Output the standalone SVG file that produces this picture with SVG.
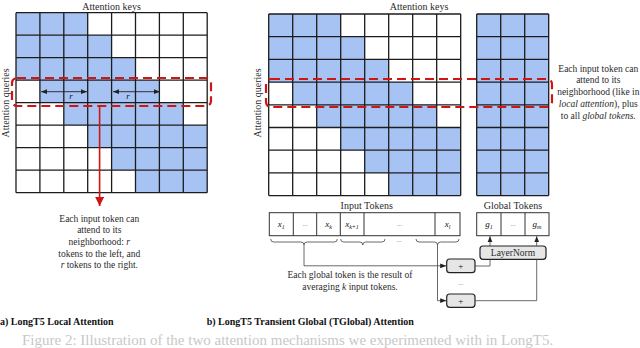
<svg xmlns="http://www.w3.org/2000/svg" width="640" height="348" viewBox="0 0 640 348">
<defs>
<style>
text{font-family:"Liberation Serif","Times New Roman","DejaVu Serif",serif;fill:#2a2a2a}
.lbl{font-size:10px;text-anchor:middle}
.ann{font-size:9.5px;text-anchor:middle}
.cap{font-size:10px;font-weight:bold;fill:#111}
.blue{fill:#a6c3f3;stroke:none}
.grid{fill:none;stroke:#1c1c1c;stroke-width:1.3}
.red{fill:none;stroke:#d01515;stroke-width:2.2;stroke-dasharray:9 5}
.tok{fill:#fff;stroke:#333;stroke-width:1}
.tk{font-size:9px;font-style:italic;text-anchor:middle;fill:#111}
.dots{font-size:7px;text-anchor:middle;fill:#888}
.box{fill:#e6e6e6;stroke:#222;stroke-width:1.2}
.plus{font-size:9px;text-anchor:middle;fill:#111}
.con{fill:none;stroke:#444;stroke-width:0.8}
.it{font-style:italic}
.fig{font-size:15px;fill:#c8c8c8}
</style>
<marker id="ah" viewBox="0 0 10 10" refX="10" refY="5" markerWidth="6" markerHeight="6" markerUnits="userSpaceOnUse" orient="auto-start-reverse"><path d="M0,1 L10,5 L0,9 z" fill="#222"/></marker>
<marker id="ahr" viewBox="0 0 10 10" refX="10" refY="5" markerWidth="9" markerHeight="9" markerUnits="userSpaceOnUse" orient="auto"><path d="M0,0 L10,5 L0,10 z" fill="#d01515"/></marker>
</defs>
<rect width="640" height="348" fill="#fff"/>

<g id="local-grid">
<text class="lbl" x="111.6" y="9.5">Attention keys</text>
<text class="lbl" transform="translate(8.5,103) rotate(-90)">Attention queries</text>
<rect class="blue" x="16" y="12.7" width="71.7" height="22.5"/>
<rect class="blue" x="16" y="35.2" width="95.6" height="22.5"/>
<rect class="blue" x="16" y="57.7" width="119.5" height="22.5"/>
<rect class="blue" x="39.9" y="80.2" width="119.5" height="22.5"/>
<rect class="blue" x="63.8" y="102.7" width="119.5" height="22.5"/>
<rect class="blue" x="87.7" y="125.2" width="119.5" height="22.5"/>
<rect class="blue" x="111.6" y="147.7" width="95.6" height="22.5"/>
<rect class="blue" x="135.5" y="170.2" width="71.7" height="22.5"/>
<path class="grid" d="M16,12.7V192.7M39.9,12.7V192.7M63.8,12.7V192.7M87.7,12.7V192.7M111.6,12.7V192.7M135.5,12.7V192.7M159.4,12.7V192.7M183.3,12.7V192.7M207.2,12.7V192.7M16,12.7H207.2M16,35.2H207.2M16,57.7H207.2M16,80.2H207.2M16,102.7H207.2M16,125.2H207.2M16,147.7H207.2M16,170.2H207.2M16,192.7H207.2"/>
<rect class="red" x="12" y="78" width="199" height="28" rx="5"/>
<line x1="41" y1="91.7" x2="87" y2="91.7" stroke="#222" stroke-width="0.9" marker-start="url(#ah)" marker-end="url(#ah)"/>
<line x1="113" y1="91.7" x2="160" y2="91.7" stroke="#222" stroke-width="0.9" marker-start="url(#ah)" marker-end="url(#ah)"/>
<text class="tk" x="71" y="99" font-size="8">r</text>
<text class="tk" x="128" y="99" font-size="8">r</text>
<line x1="99.6" y1="106" x2="99.6" y2="206" stroke="#d01515" stroke-width="1.6" marker-end="url(#ahr)"/>
<text class="ann" x="99.3" y="221.5">Each input token can</text>
<text class="ann" x="99.3" y="233.2">attend to its</text>
<text class="ann" x="99.3" y="245">neighborhood: <tspan class="it">r</tspan></text>
<text class="ann" x="99.3" y="256.6">tokens to the left, and</text>
<text class="ann" x="99.3" y="268.3"><tspan class="it">r</tspan> tokens to the right.</text>
</g>

<g id="tglobal-grid">
<text class="lbl" x="419" y="9.5">Attention keys</text>
<text class="lbl" transform="translate(261,103) rotate(-90)">Attention queries</text>
<rect class="blue" x="268.7" y="14" width="72" height="22.7"/>
<rect class="blue" x="268.7" y="36.7" width="96" height="22.7"/>
<rect class="blue" x="268.7" y="59.4" width="120" height="22.7"/>
<rect class="blue" x="292.7" y="82.1" width="120" height="22.7"/>
<rect class="blue" x="316.7" y="104.8" width="120" height="22.7"/>
<rect class="blue" x="340.7" y="127.5" width="120" height="22.7"/>
<rect class="blue" x="364.7" y="150.2" width="96" height="22.7"/>
<rect class="blue" x="388.7" y="172.9" width="72" height="22.7"/>
<path class="grid" d="M268.7,14V195.6M292.7,14V195.6M316.7,14V195.6M340.7,14V195.6M364.7,14V195.6M388.7,14V195.6M412.7,14V195.6M436.7,14V195.6M460.7,14V195.6M268.7,14H460.7M268.7,36.7H460.7M268.7,59.4H460.7M268.7,82.1H460.7M268.7,104.8H460.7M268.7,127.5H460.7M268.7,150.2H460.7M268.7,172.9H460.7M268.7,195.6H460.7"/>
</g>

<g id="global-grid">
<rect class="blue" x="476.7" y="14" width="72" height="181.6"/>
<path class="grid" d="M476.7,14V195.6M500.7,14V195.6M524.7,14V195.6M548.7,14V195.6M476.7,14H548.7M476.7,36.7H548.7M476.7,59.4H548.7M476.7,82.1H548.7M476.7,104.8H548.7M476.7,127.5H548.7M476.7,150.2H548.7M476.7,172.9H548.7M476.7,195.6H548.7"/>
</g>

<g id="tglobal-highlight">
<rect class="red" x="266" y="79" width="286" height="28" rx="5"/>
<text class="ann" x="598.3" y="71.5">Each input token can</text>
<text class="ann" x="598.3" y="83.2">attend to its</text>
<text class="ann" x="598.3" y="94.9">neighborhood (like in</text>
<text class="ann" x="598.3" y="106.6"><tspan class="it">local attention</tspan>), plus</text>
<text class="ann" x="598.3" y="118.6">to all <tspan class="it">global tokens.</tspan></text>
</g>

<g id="input-tokens">
<text class="lbl" x="366.7" y="209">Input Tokens</text>
<rect class="tok" x="269.3" y="212.7" width="190.7" height="23"/>
<path class="tok" d="M293.3,212.7V235.7M316.7,212.7V235.7M340.3,212.7V235.7M364,212.7V235.7M435,212.7V235.7"/>
<text class="tk" x="281.3" y="227">x<tspan font-size="6" dy="2">1</tspan></text>
<text class="dots" x="305" y="226">...</text>
<text class="tk" x="328.5" y="227">x<tspan font-size="6" dy="2">k</tspan></text>
<text class="tk" x="352" y="227">x<tspan font-size="6" dy="2">k+1</tspan></text>
<text class="dots" x="399.5" y="226">...</text>
<text class="tk" x="447.5" y="227">x<tspan font-size="6" dy="2">l</tspan></text>
</g>

<g id="global-tokens">
<text class="lbl" x="513" y="209">Global Tokens</text>
<rect class="tok" x="476.7" y="212.7" width="72.3" height="23"/>
<path class="tok" d="M501,212.7V235.7M525,212.7V235.7"/>
<text class="tk" x="489" y="227">g<tspan font-size="6" dy="2">1</tspan></text>
<text class="dots" x="513" y="226">...</text>
<text class="tk" x="537" y="227">g<tspan font-size="6" dy="2">m</tspan></text>
</g>

<g id="layernorm">
<rect class="box" x="480" y="246" width="66" height="13.3" rx="3"/>
<text x="513" y="256" font-size="9.5" text-anchor="middle">LayerNorm</text>
</g>

<g id="plus-1">
<rect class="box" x="446.7" y="259" width="28.3" height="13.7" rx="3"/>
<text class="plus" x="460.8" y="269.3">+</text>
</g>

<g id="plus-2">
<rect class="box" x="446.7" y="294" width="28.3" height="13.3" rx="3"/>
<text class="plus" x="460.8" y="304">+</text>
</g>

<g id="connectors">
<path class="con" d="M270.7,239 q0,3 3,3 H301 q3,0 3,3 q0,-3 3,-3 H334.3 q3,0 3,-3"/>
<path class="con" d="M340.7,239 q0,3 3,3 H359.8 q3,0 3,3 q0,-3 3,-3 H382 q3,0 3,-3"/>
<path class="con" d="M416,239 q0,3 3,3 H434.5 q3,0 3,3 q0,-3 3,-3 H456 q3,0 3,-3"/>
<text class="dots" x="399" y="242">...</text>
<path class="con" d="M304,245 V265.8 H446.2" marker-end="url(#ah)"/>
<path class="con" d="M437.5,245 V300.7 H446.2" marker-end="url(#ah)"/>
<text class="dots" x="460.8" y="285">...</text>
<path class="con" d="M475,266 H490 V259.3"/>
<path class="con" d="M475,300.7 H536.7 V259.3"/>
<line class="con" x1="490" y1="246" x2="490" y2="236.2" marker-end="url(#ah)"/>
<line class="con" x1="536.7" y1="246" x2="536.7" y2="236.2" marker-end="url(#ah)"/>
</g>

<g id="notes">
<text class="ann" x="350" y="278">Each global token is the result of</text>
<text class="ann" x="350" y="289.8">averaging <tspan class="it">k</tspan> input tokens.</text>
<text class="cap" x="0" y="324.5">a) LongT5 Local Attention</text>
<text class="cap" x="206.7" y="324.5">b) LongT5 Transient Global (TGlobal) Attention</text>
<text class="fig" x="22" y="345">Figure 2: Illustration of the two attention mechanisms we experimented with in LongT5.</text>
</g>
</svg>
